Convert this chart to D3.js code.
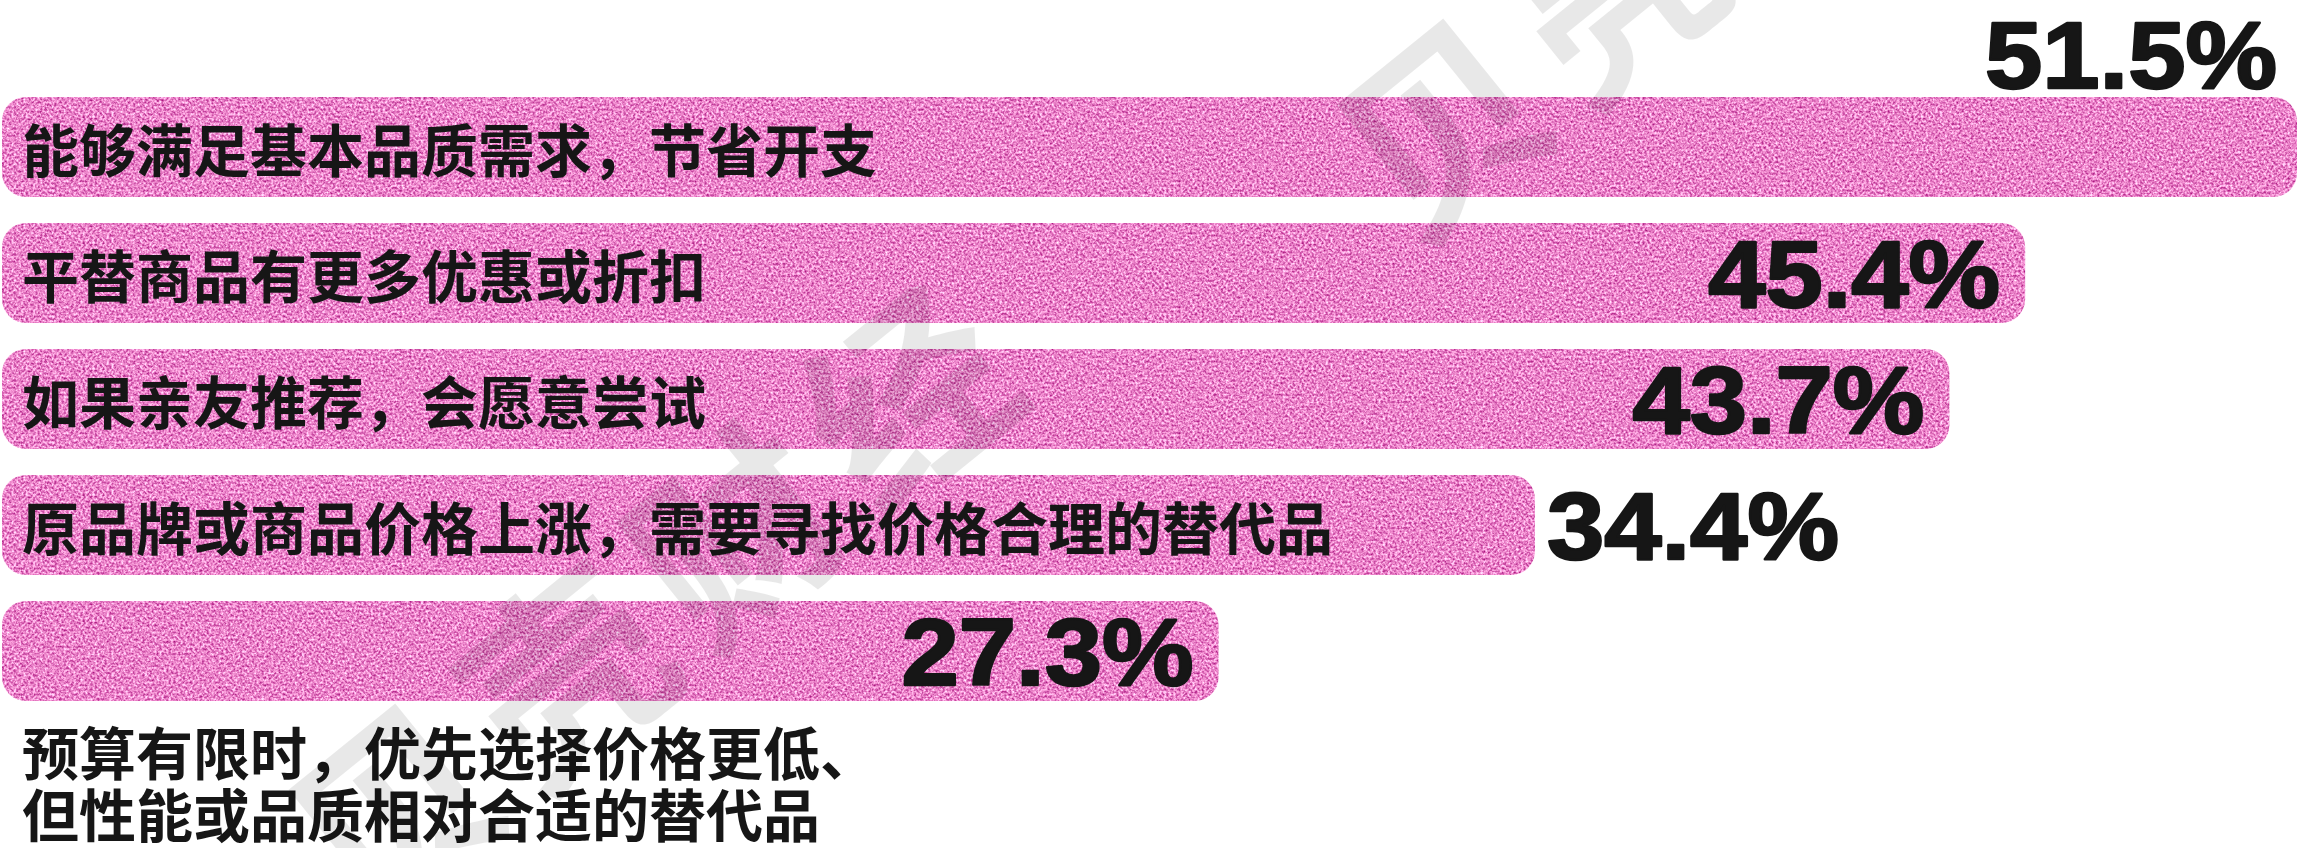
<!DOCTYPE html>
<html lang="zh">

<head>
  <meta charset="UTF-8">
  <title>平替消费原因</title>
  <script src="https://cdn.jsdelivr.net/npm/d3@7/dist/d3.min.js"></script>
  <style>
    body { margin: 0; background: #fff; }
    svg { display: block; }
  </style>
</head>

<body>
  <svg id="chart" width="2299" height="848"></svg>
  <script>
    // 数据
    const categories = [
      '能够满足基本品质需求，节省开支',
      '平替商品有更多优惠或折扣',
      '如果亲友推荐，会愿意尝试',
      '原品牌或商品价格上涨，需要寻找价格合理的替代品',
      '预算有限时，优先选择价格更低、但性能或品质相对合适的替代品'
    ];
    const values = [51.5, 45.4, 43.7, 34.4, 27.3];
    // 数值标签位置: above / inside / outside
    const labelPlace = ['above', 'inside', 'inside', 'outside', 'inside'];

    const width = 2299,
      height = 848,
      ink = '#161616',
      svg = d3.select('#chart');

    // 颗粒质感的粉色
    const defs = svg.append('defs');
    const grain = defs.append('filter')
      .attr('id', 'grain')
      .attr('color-interpolation-filters', 'sRGB')
      .attr('x', 0).attr('y', 0).attr('width', 1).attr('height', 1);
    grain.append('feTurbulence')
      .attr('type', 'fractalNoise')
      .attr('baseFrequency', 0.42)
      .attr('numOctaves', 2)
      .attr('seed', 7)
      .attr('result', 'noise');
    grain.append('feColorMatrix')
      .attr('in', 'noise')
      .attr('type', 'matrix')
      .attr('values', [
        0.7, 0, 0, 0, 0.57,
        1.2, 0, 0, 0, -0.08,
        0.8, 0, 0, 0, 0.39,
        0, 0, 0, 0, 1
      ].join(' '))
      .attr('result', 'pink');
    grain.append('feComposite')
      .attr('in', 'pink')
      .attr('in2', 'SourceGraphic')
      .attr('operator', 'in');

    const x = d3.scaleLinear()
      .domain([0, d3.max(values)])
      .range([2, 2297]);

    const y = d3.scaleBand()
      .domain(categories)
      .range([97, 701])
      .paddingInner(0.206)
      .paddingOuter(0);

    const rows = svg.append('g')
      .selectAll('g')
      .data(categories)
      .join('g')
      .attr('transform', d => `translate(0, ${y(d)})`);

    rows.append('rect')
      .attr('x', x(0))
      .attr('width', (d, i) => x(values[i]) - x(0))
      .attr('height', y.bandwidth())
      .attr('rx', 24)
      .attr('fill', '#d96cc0')
      .attr('filter', 'url(#grain)');

    // 分类文字
    const catFont = '"Noto Sans CJK SC", "Noto Sans", sans-serif';
    rows.each(function (d, i) {
      const g = d3.select(this);
      if (i < categories.length - 1) {
        g.append('text')
          .attr('x', 22)
          .attr('y', y.bandwidth() / 2)
          .attr('dominant-baseline', 'central')
          .attr('font-family', catFont)
          .attr('font-size', 57)
          .attr('font-weight', 700)
          .attr('fill', ink)
          .text(d);
      } else {
        // 最后一项放在条形下方，分两行
        const cut = d.indexOf('、') + 1;
        const lines = [d.slice(0, cut), d.slice(cut)];
        g.selectAll('.sub')
          .data(lines)
          .join('text')
          .attr('class', 'sub')
          .attr('x', 22)
          .attr('y', (l, k) => y.bandwidth() + 49 + k * 62)
          .attr('dominant-baseline', 'central')
          .attr('font-family', catFont)
          .attr('font-size', 57)
          .attr('font-weight', 700)
          .attr('fill', ink)
          .text(l => l);
      }
    });

    // 数值
    rows.append('text')
      .attr('x', (d, i) => {
        const end = x(values[i]);
        if (labelPlace[i] === 'outside') return end + 12;
        if (labelPlace[i] === 'above') return end - 20;
        return end - 25;
      })
      .attr('y', (d, i) => labelPlace[i] === 'above' ? -9 : y.bandwidth() / 2 + 34)
      .attr('text-anchor', (d, i) => labelPlace[i] === 'outside' ? 'start' : 'end')
      .attr('font-family', '"Liberation Sans", Arial, sans-serif')
      .attr('font-weight', 'bold')
      .attr('font-size', 95)
      .attr('textLength', 292)
      .attr('lengthAdjust', 'spacingAndGlyphs')
      .attr('fill', ink)
      .attr('stroke', ink)
      .attr('stroke-width', 2.5)
      .attr('stroke-linejoin', 'round')
      .text((d, i) => values[i].toFixed(1) + '%');

    // 水印
    const marks = [[652, 590], [1700, -95]];
    svg.append('g')
      .attr('pointer-events', 'none')
      .selectAll('text')
      .data(marks)
      .join('text')
      .attr('transform', m => `translate(${m[0]}, ${m[1]}) rotate(-39)`)
      .attr('text-anchor', 'middle')
      .attr('dominant-baseline', 'central')
      .attr('font-family', catFont)
      .attr('font-weight', 700)
      .attr('font-size', 200)
      .attr('letter-spacing', 20)
      .attr('fill', '#000')
      .attr('fill-opacity', 0.09)
      .text('贝壳财经');
  </script>
</body>

</html>
